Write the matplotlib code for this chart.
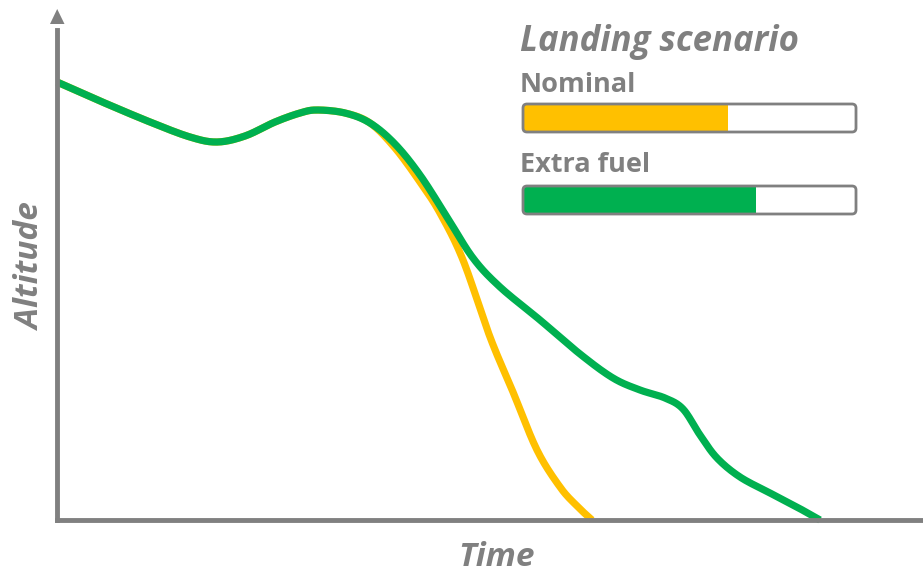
import numpy as np
import matplotlib
matplotlib.use("Agg")
import matplotlib.pyplot as plt
from matplotlib.patches import FancyBboxPatch, Rectangle

# ---- data (time, altitude) ----
green_time = [0, 43, 93, 133, 160, 188, 218, 243, 260, 288, 313, 338, 363, 390, 416, 443,
              483, 523, 556, 583, 608, 626, 643, 660, 683, 713, 738, 763]
green_alt = [438, 419, 398, 383, 378, 384, 398, 407, 410, 407, 397, 376, 345, 303, 262, 233,
             200, 166, 142, 130, 122, 111, 85, 62, 43, 27, 14, 0]
yellow_time = [0, 43, 93, 133, 160, 188, 218, 243, 260, 288, 313, 338, 363, 383, 406,
               433, 456, 480, 503, 520, 535]
yellow_alt = [438, 419, 398, 383, 378, 384, 398, 407, 410, 407, 397, 372, 338, 307, 260,
              183, 128, 70, 33, 14, 0]

scenarios = ["Nominal", "Extra fuel"]
fuel_levels = [0.615, 0.70]
legend_title = "Landing scenario"

YELLOW = "#FFC000"
GREEN = "#00B050"
GRAY = "#808080"


def catmull_rom(x, y, n=20):
    pts = np.column_stack([x, y]).astype(float)
    pts = np.vstack([pts[0], pts, pts[-1]])
    out = []
    for i in range(1, len(pts) - 2):
        p0, p1, p2, p3 = pts[i - 1], pts[i], pts[i + 1], pts[i + 2]
        t = np.linspace(0, 1, n, endpoint=False)[:, None]
        seg = 0.5 * ((2 * p1) + (-p0 + p2) * t + (2 * p0 - 5 * p1 + 4 * p2 - p3) * t ** 2
                     + (-p0 + 3 * p1 - 3 * p2 + p3) * t ** 3)
        out.append(seg)
    out.append(pts[-2][None, :])
    out = np.vstack(out)
    return out[:, 0], out[:, 1]


W, H = 923, 573
fig = plt.figure(figsize=(W / 100, H / 100), dpi=100)

ax_left, ax_bottom_px, ax_top_px = 57, 520, 8
ax = fig.add_axes([ax_left / W, (H - ax_bottom_px) / H, (W - ax_left) / W, (ax_bottom_px - ax_top_px) / H])
ax.set_xlim(0, W - ax_left)
ax.set_ylim(0, ax_bottom_px - ax_top_px)

yx, yy = catmull_rom(yellow_time, yellow_alt)
gx, gy = catmull_rom(green_time, green_alt)
ax.plot(yx, yy, color=YELLOW, lw=5.2, solid_capstyle="butt", zorder=3, clip_on=False)
ax.plot(gx, gy, color=GREEN, lw=5.2, solid_capstyle="butt", zorder=4, clip_on=False)

for s in ["top", "right"]:
    ax.spines[s].set_visible(False)
for s in ["left", "bottom"]:
    ax.spines[s].set_color(GRAY)
    ax.spines[s].set_linewidth(3.5)
    ax.spines[s].set_zorder(5)
ax.spines["left"].set_bounds(0, 490)
ax.set_xticks([])
ax.set_yticks([])
ax.patch.set_alpha(0)

# overlay in pixel coordinates
ov = fig.add_axes([0, 0, 1, 1])
ov.set_xlim(0, W)
ov.set_ylim(H, 0)
ov.axis("off")
ov.patch.set_alpha(0)

# arrow head of y axis
ov.add_patch(plt.Polygon([[50, 24], [64.5, 24], [57.2, 9]], closed=True, color=GRAY, lw=0))

fam = ["Open Sans", "DejaVu Sans"]
ov.text(31, 267, "Altitude", rotation=90, ha="center", va="center", color=GRAY,
        fontsize=24, fontweight="bold", fontstyle="italic", family=fam)
ov.text(497, 557, "Time", ha="center", va="center", color=GRAY,
        fontsize=24, fontweight="bold", fontstyle="italic", family=fam)

ov.text(520, 42, legend_title, ha="left", va="center", color=GRAY,
        fontsize=25, fontweight="bold", fontstyle="italic", family=fam)

label_y = [85, 165]
bar_y = [104, 186]
bx0, bx1, bh = 523, 856, 28
colors = [YELLOW, GREEN]
for name, lvl, ly, by, c in zip(scenarios, fuel_levels, label_y, bar_y, colors):
    ov.text(520, ly, name, ha="left", va="center", color=GRAY,
            fontsize=19.5, fontweight="bold", family=fam)
    ov.add_patch(Rectangle((bx0 + 1, by + 1), (bx1 - bx0 - 2) * lvl, bh - 2, color=c, lw=0, zorder=2))
    ov.add_patch(FancyBboxPatch((bx0, by), bx1 - bx0, bh,
                                boxstyle="round,pad=0,rounding_size=4",
                                fc="none", ec=GRAY, lw=2, zorder=3))

fig.savefig("out.png", dpi=100)
